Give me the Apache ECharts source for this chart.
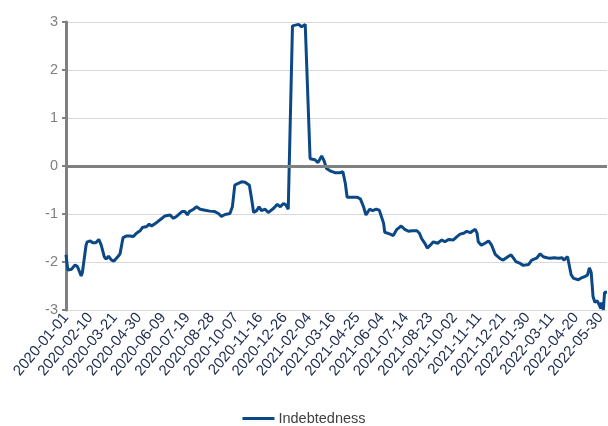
<!DOCTYPE html>
<html>
<head>
<meta charset="utf-8">
<script src="https://cdn.jsdelivr.net/npm/echarts@6/dist/echarts.min.js"></script>
<style>
  html, body { margin: 0; padding: 0; background: #ffffff; }
  #chart { width: 608px; height: 426px; }
</style>
</head>
<body>
<div id="chart"></div>
<script>
// Indebtedness index, observation dates and values
const seriesName = 'Indebtedness';
const startDate = '2020-01-01';
const endDate = '2022-06-10';
const dates = [
  '2020-01-01','2020-01-04','2020-01-10','2020-01-16','2020-01-20','2020-01-26','2020-01-28','2020-02-03','2020-02-05','2020-02-10',
  '2020-02-14','2020-02-19','2020-02-24','2020-02-28','2020-03-04','2020-03-07','2020-03-11','2020-03-16','2020-03-20','2020-03-27',
  '2020-03-30','2020-04-04','2020-04-09','2020-04-15','2020-04-21','2020-04-26','2020-05-02','2020-05-06','2020-05-13','2020-05-17',
  '2020-05-21','2020-05-27','2020-06-04','2020-06-12','2020-06-20','2020-06-26','2020-07-01','2020-07-10','2020-07-15','2020-07-19',
  '2020-07-22','2020-07-29','2020-08-03','2020-08-09','2020-08-17','2020-08-25','2020-09-02','2020-09-08','2020-09-13','2020-09-19',
  '2020-09-27','2020-10-01','2020-10-05','2020-10-11','2020-10-16','2020-10-22','2020-10-29','2020-11-02','2020-11-05','2020-11-10',
  '2020-11-14','2020-11-18','2020-11-24','2020-11-29','2020-12-08','2020-12-14','2020-12-19','2020-12-24','2020-12-28','2021-01-01',
  '2021-01-08','2021-01-09','2021-01-18','2021-01-23','2021-01-29','2021-02-01','2021-02-06','2021-02-09','2021-02-14','2021-02-19',
  '2021-02-25','2021-03-01','2021-03-05','2021-03-11','2021-03-19','2021-03-27','2021-04-01','2021-04-05','2021-04-08','2021-04-16',
  '2021-04-25','2021-04-30','2021-05-05','2021-05-09','2021-05-15','2021-05-20','2021-05-26','2021-05-31','2021-06-01','2021-06-07',
  '2021-06-09','2021-06-18','2021-06-23','2021-06-29','2021-07-06','2021-07-12','2021-07-18','2021-07-24','2021-08-01','2021-08-05',
  '2021-08-09','2021-08-14','2021-08-18','2021-08-23','2021-08-28','2021-09-04','2021-09-11','2021-09-16','2021-09-22','2021-09-30',
  '2021-10-06','2021-10-11','2021-10-17','2021-10-22','2021-10-28','2021-11-01','2021-11-05','2021-11-08','2021-11-10','2021-11-15',
  '2021-11-21','2021-11-27','2021-12-02','2021-12-08','2021-12-16','2021-12-21','2021-12-30','2022-01-03','2022-01-07','2022-01-11',
  '2022-01-18','2022-01-23','2022-02-01','2022-02-06','2022-02-14','2022-02-20','2022-02-25','2022-03-03','2022-03-08','2022-03-15',
  '2022-03-22','2022-03-28','2022-03-31','2022-04-06','2022-04-09','2022-04-12','2022-04-16','2022-04-24','2022-04-29','2022-05-05',
  '2022-05-09','2022-05-12','2022-05-15','2022-05-18','2022-05-21','2022-05-25','2022-05-28','2022-05-31','2022-06-01','2022-06-04',
  '2022-06-06','2022-06-10'
];
const values = [
  -1.85,-2.17,-2.15,-2.06,-2.10,-2.29,-2.22,-1.65,-1.58,-1.56,
  -1.60,-1.60,-1.53,-1.65,-1.89,-1.94,-1.88,-1.96,-1.98,-1.88,
  -1.83,-1.49,-1.46,-1.46,-1.47,-1.40,-1.35,-1.28,-1.26,-1.21,
  -1.25,-1.20,-1.12,-1.04,-1.02,-1.09,-1.05,-0.95,-0.95,-1.02,
  -0.95,-0.90,-0.85,-0.90,-0.92,-0.94,-0.95,-0.99,-1.05,-1.01,
  -0.99,-0.85,-0.40,-0.36,-0.33,-0.34,-0.40,-0.71,-0.97,-0.93,
  -0.85,-0.93,-0.90,-0.97,-0.88,-0.80,-0.85,-0.78,-0.81,-0.90,
  2.92,2.95,2.95,2.90,2.95,2.94,0.15,0.14,0.13,0.07,
  0.21,0.11,-0.05,-0.10,-0.14,-0.14,-0.12,-0.36,-0.65,-0.65,
  -0.65,-0.69,-0.85,-1.02,-0.90,-0.93,-0.90,-0.92,-0.88,-1.19,
  -1.38,-1.42,-1.45,-1.32,-1.25,-1.32,-1.36,-1.35,-1.35,-1.40,
  -1.52,-1.61,-1.71,-1.65,-1.58,-1.61,-1.54,-1.58,-1.53,-1.54,
  -1.47,-1.42,-1.40,-1.36,-1.39,-1.35,-1.32,-1.40,-1.58,-1.65,
  -1.61,-1.56,-1.65,-1.84,-1.93,-1.96,-1.88,-1.85,-1.92,-1.99,
  -2.03,-2.07,-2.05,-1.96,-1.92,-1.83,-1.89,-1.91,-1.92,-1.91,
  -1.92,-1.91,-1.96,-1.89,-1.90,-2.27,-2.34,-2.37,-2.33,-2.30,
  -2.27,-2.12,-2.22,-2.72,-2.84,-2.81,-2.77,-2.97,-2.84,-3.00,
  -2.63,-2.63
];
const yTicks = [-3, -2, -1, 0, 1, 2, 3];
const labelStepDays = 40;

const DAY = 86400000;
const t0 = Date.parse(startDate + 'T00:00:00Z');
const dayOffset = s => Math.round((Date.parse(s + 'T00:00:00Z') - t0) / DAY);
const dayToDate = d => new Date(t0 + d * DAY).toISOString().slice(0, 10);

const points = dates.map((d, i) => [dayOffset(d), values[i]]);

const chart = echarts.init(document.getElementById('chart'), null, { renderer: 'canvas' });
chart.setOption({
  animation: false,
  backgroundColor: '#ffffff',
  textStyle: { fontFamily: '"Liberation Sans", Arial, sans-serif' },
  grid: { left: 66, right: 1, top: 22, bottom: 116, containLabel: false },
  xAxis: {
    type: 'value',
    min: 0,
    max: dayOffset(endDate),
    interval: labelStepDays,
    axisLine: { show: false },
    axisTick: { show: false },
    splitLine: { show: false },
    axisLabel: {
      rotate: 50,
      margin: 5,
      color: '#1c2a4d',
      fontSize: 15,
      showMaxLabel: false,
      formatter: v => (v % labelStepDays === 0 ? dayToDate(v) : '')
    }
  },
  yAxis: {
    type: 'value',
    min: yTicks[0],
    max: yTicks[yTicks.length - 1],
    interval: 1,
    axisLine: { show: true, lineStyle: { color: '#808080', width: 3 } },
    axisTick: { show: true, length: 4, lineStyle: { color: '#808080', width: 2 } },
    splitLine: { show: true, lineStyle: { color: '#d9d9d9', width: 1 } },
    axisLabel: { color: '#7f7f7f', fontSize: 14.5, margin: 8 }
  },
  legend: {
    top: 406,
    left: 'center',
    itemWidth: 32,
    itemHeight: 3,
    itemGap: 4,
    icon: 'rect',
    textStyle: { color: '#404040', fontSize: 14.5, padding: [0, 0, 0, -1] },
    data: [seriesName]
  },
  series: [{
    name: seriesName,
    type: 'line',
    data: points,
    showSymbol: false,
    symbol: 'none',
    lineStyle: { color: '#0b4885', width: 3 },
    itemStyle: { color: '#0b4885' },
    markLine: {
      silent: true,
      symbol: 'none',
      label: { show: false },
      lineStyle: { color: '#808080', width: 3, type: 'solid' },
      data: [{ yAxis: 0 }]
    },
    z: 3
  }]
});
</script>
</body>
</html>
